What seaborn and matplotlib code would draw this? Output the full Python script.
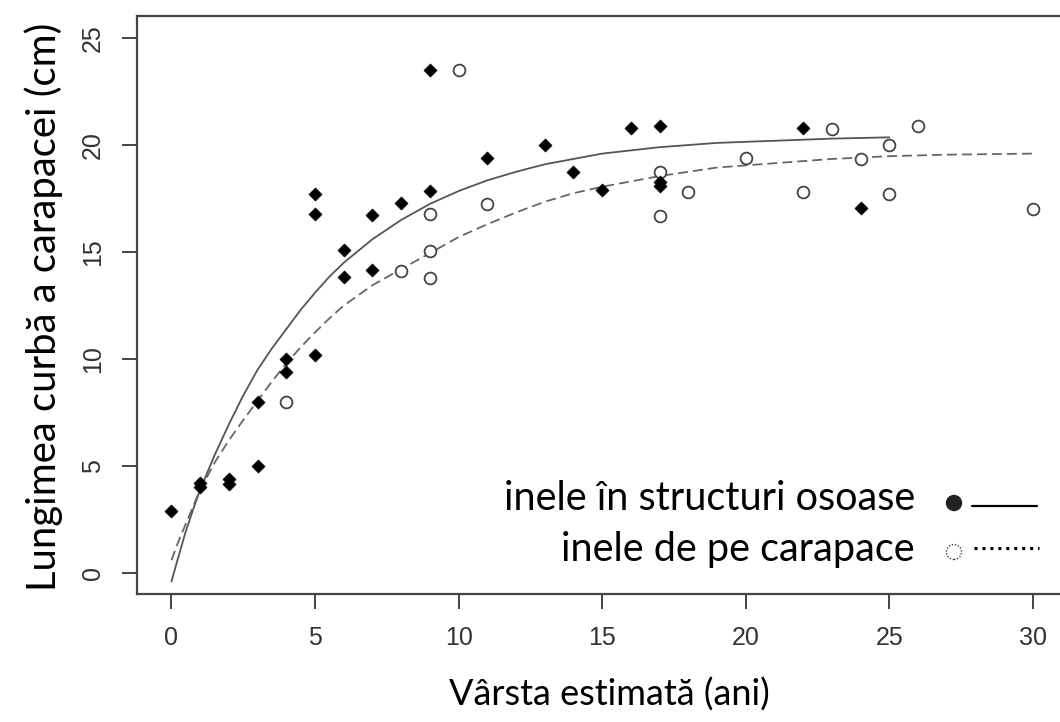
import numpy as np
import pandas as pd
import matplotlib
matplotlib.use("Agg")
import matplotlib.pyplot as plt
from matplotlib.lines import Line2D
from matplotlib.patches import Ellipse
import seaborn as sns

# ---- data ----
bone_age = [0, 1, 1, 2, 2, 3, 3, 4, 4, 5, 5, 5, 6, 6, 7, 7, 8, 9, 9, 11, 13, 14, 15, 16, 17, 17, 17, 22, 24]
bone_len = [2.9, 4.2, 4.0, 4.4, 4.15, 5.0, 8.0, 10.0, 9.4, 10.2, 17.7, 16.8, 15.1, 13.85, 16.75, 14.15,
            17.3, 23.5, 17.85, 19.4, 20.0, 18.75, 17.9, 20.8, 20.9, 18.25, 18.1, 20.8, 17.05]

shell_age = [4, 8, 9, 9, 9, 10, 11, 17, 17, 18, 20, 22, 23, 24, 25, 25, 26, 30]
shell_len = [8.0, 14.1, 16.8, 15.05, 13.8, 23.5, 17.25, 18.72, 16.7, 17.8, 19.4, 17.8, 20.75, 19.35,
             20.0, 17.7, 20.9, 17.0]

bone_curve_t = [0, 0.25, 0.5, 0.75, 1, 1.5, 2, 2.5, 3, 3.5, 4, 4.5, 5, 5.5, 6, 7, 8, 9, 10, 11, 12, 13, 14,
                15, 17, 19, 21, 23, 25]
bone_curve_L = [-0.4, 0.8, 1.95, 2.95, 3.9, 5.5, 6.95, 8.3, 9.5, 10.5, 11.4, 12.3, 13.1, 13.85, 14.5,
                15.6, 16.5, 17.25, 17.85, 18.35, 18.75, 19.1, 19.35, 19.6, 19.9, 20.1, 20.2, 20.3, 20.36]

shell_curve_t = [0, 0.25, 0.5, 0.75, 1, 1.5, 2, 2.5, 3, 3.5, 4, 4.5, 5, 5.5, 6, 7, 8, 9, 10, 11, 12, 13,
                 14, 15, 17, 19, 21, 23, 25, 27, 30]
shell_curve_L = [0.6, 1.5, 2.3, 3.1, 3.9, 5.15, 6.2, 7.15, 8.05, 8.95, 9.8, 10.55, 11.25, 11.9, 12.5,
                 13.45, 14.2, 14.95, 15.7, 16.3, 16.85, 17.35, 17.75, 18.05, 18.55, 18.95, 19.15, 19.35,
                 19.48, 19.55, 19.6]

x_ticks = [0, 5, 10, 15, 20, 25, 30]
y_ticks = [0, 5, 10, 15, 20, 25]

xlabel = "Vârsta estimată (ani)"
ylabel = "Lungimea curbă a carapacei (cm)"
legend_labels = ["inele în structuri osoase", "inele de pe carapace"]

# ---- figure ----
sns.set_theme(style="white")
plt.rcParams["font.family"] = ["Liberation Sans", "DejaVu Sans"]

W, H = 1060, 722
fig = plt.figure(figsize=(W / 100, H / 100), dpi=100)
ax = fig.add_axes([137 / W, (H - 594) / H, (1067.4 - 137) / W, 578 / H])

bone_df = pd.DataFrame({"age": bone_age, "len": bone_len})
shell_df = pd.DataFrame({"age": shell_age, "len": shell_len})
bc = pd.DataFrame({"t": bone_curve_t, "L": bone_curve_L})
sc = pd.DataFrame({"t": shell_curve_t, "L": shell_curve_L})

sns.lineplot(data=bc, x="t", y="L", ax=ax, color="#555555", lw=1.3, sort=False, estimator=None)
sns.lineplot(data=sc, x="t", y="L", ax=ax, color="#666666", lw=1.3, sort=False, estimator=None,
             linestyle=(0, (5.5, 2.8)))
sns.scatterplot(data=shell_df, x="age", y="len", ax=ax, marker="o", s=72,
                facecolor="white", edgecolor="#444444", linewidth=1.3, zorder=3)
sns.scatterplot(data=bone_df, x="age", y="len", ax=ax, marker="D", s=44,
                color="black", edgecolor="black", linewidth=0.5, zorder=4)

ax.set_xlim(-1.2, 31.2)
ax.set_ylim(-0.98, 26.03)
ax.set_xticks(x_ticks)
ax.set_yticks(y_ticks)
ax.set_xticklabels([str(v) for v in x_ticks])
ax.set_yticklabels([str(v) for v in y_ticks], rotation=90, va="center")
ax.tick_params(axis="both", direction="out", length=11, width=1.4, color="#444444",
               labelsize=18, labelcolor="#333333", pad=12, left=True, bottom=True)
for side in ["left", "bottom", "top", "right"]:
    ax.spines[side].set_color("#444444")
    ax.spines[side].set_linewidth(1.6)
ax.set_xlabel("")
ax.set_ylabel("")

fig.text(609 / W, 1 - 695 / H, xlabel, ha="center", va="center", fontsize=26,
         family=["Lato", "DejaVu Sans"], color="black")
fig.text(44 / W, 1 - 307 / H, ylabel, ha="center", va="center", rotation=90, fontsize=28.8,
         family=["Lato", "DejaVu Sans"], color="black")

# legend (manual)
fig.text(915 / W, 1 - 499 / H, legend_labels[0], ha="right", va="center", fontsize=28.5,
         family=["Lato", "DejaVu Sans"], color="black")
fig.text(915 / W, 1 - 550 / H, legend_labels[1], ha="right", va="center", fontsize=28.5,
         family=["Lato", "DejaVu Sans"], color="black")
fig.add_artist(Ellipse((954 / W, 1 - 503 / H), 15 / W, 15 / H, transform=fig.transFigure,
                       facecolor="#222222", edgecolor="#222222", lw=1))
fig.add_artist(Line2D([972 / W, 1037 / W], [1 - 506 / H, 1 - 506 / H], transform=fig.transFigure,
                      color="black", lw=1.6))
fig.add_artist(Ellipse((954 / W, 1 - 552 / H), 15 / W, 15 / H, transform=fig.transFigure,
                       facecolor="white", edgecolor="#444444", lw=1, linestyle=(0, (1, 1.2))))
fig.add_artist(Line2D([974 / W, 1039 / W], [1 - 548 / H, 1 - 548 / H], transform=fig.transFigure,
                      color="black", lw=2.2, linestyle=(0, (1, 1.6))))

fig.savefig("out.png", dpi=100)
